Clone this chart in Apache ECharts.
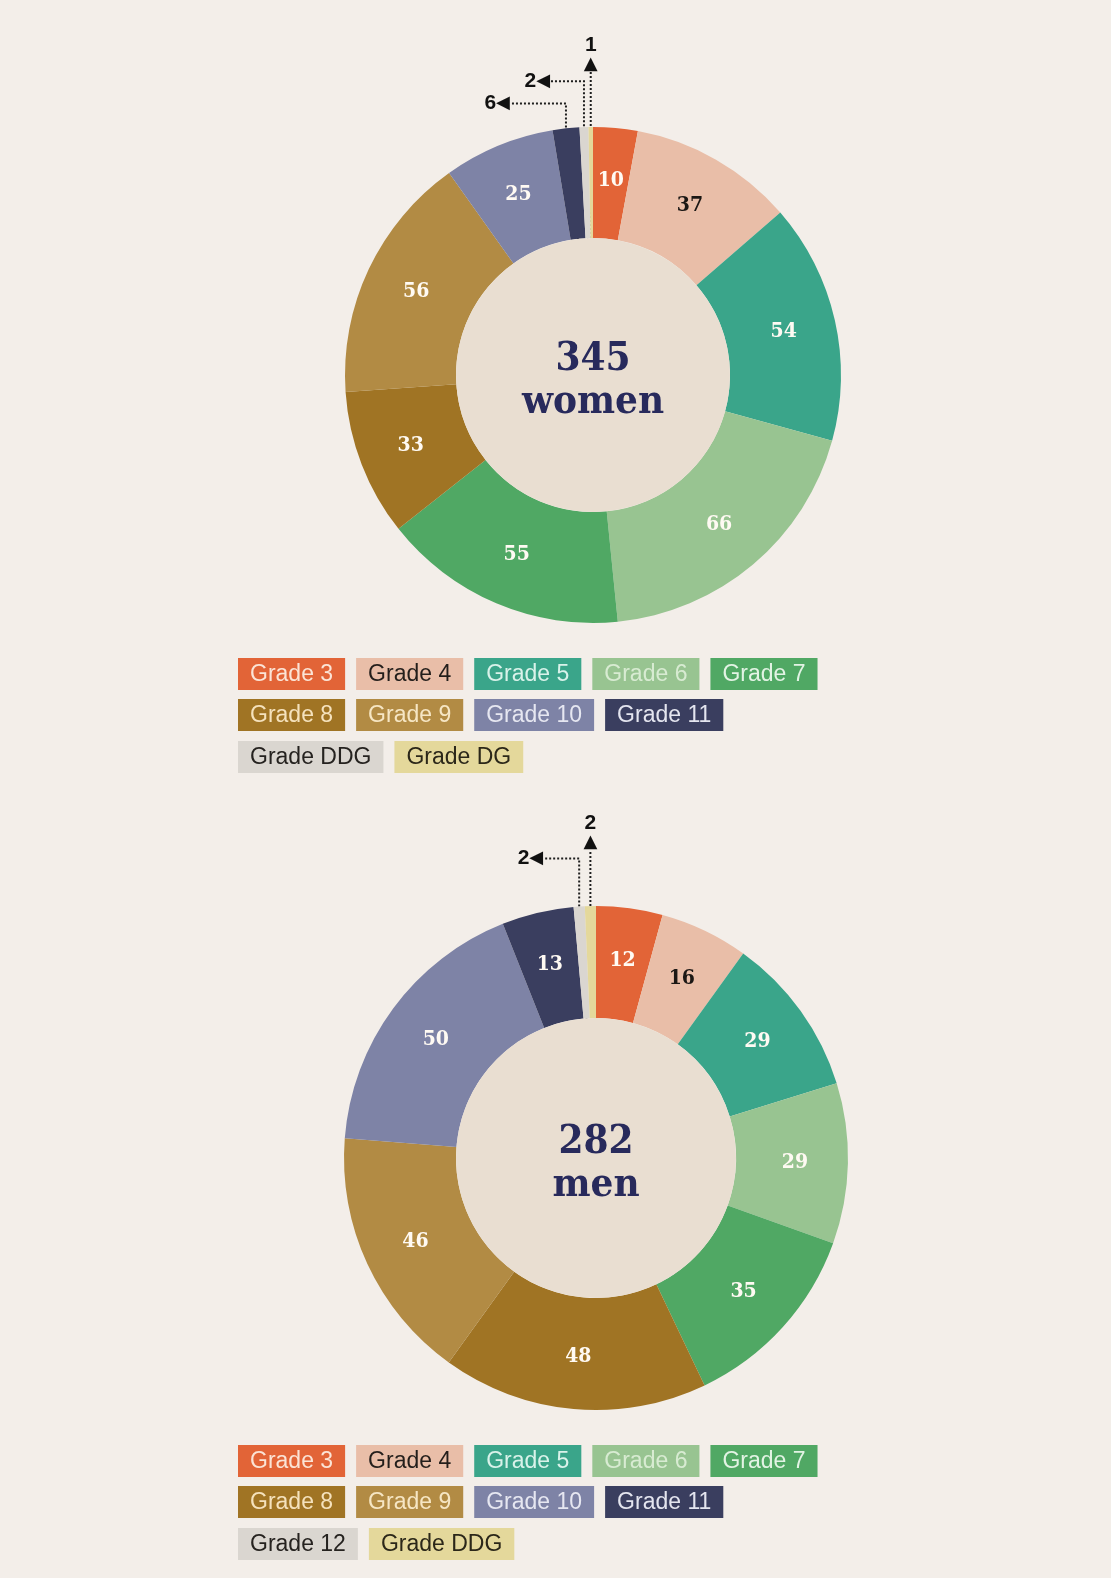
<!DOCTYPE html>
<html lang="en">
<head>
<meta charset="UTF-8" />
<title>Grades by gender</title>
<style>
  html, body { margin: 0; padding: 0; background: #f3eee9; }
  #main { width: 1111px; height: 1578px; }
</style>
</head>
<body>
<div id="main"></div>
<script src="https://cdn.jsdelivr.net/npm/echarts@6/dist/echarts.min.js"></script>
<script>
let womenGrades = ['Grade 3', 'Grade 4', 'Grade 5', 'Grade 6', 'Grade 7', 'Grade 8', 'Grade 9', 'Grade 10', 'Grade 11', 'Grade DDG', 'Grade DG']
let womenCounts = [10, 37, 54, 66, 55, 33, 56, 25, 6, 2, 1]
let menGrades = ['Grade 3', 'Grade 4', 'Grade 5', 'Grade 6', 'Grade 7', 'Grade 8', 'Grade 9', 'Grade 10', 'Grade 11', 'Grade 12', 'Grade DDG']
let menCounts = [12, 16, 29, 29, 35, 48, 46, 50, 13, 2, 2]

// colours by position in the ring (the last two are the grey / pale yellow slots)
let sliceColors = ['#e26437', '#e9bea8', '#3aa58a', '#98c491', '#50a864', '#a07424', '#b28b44', '#7e83a6', '#3a3e5f', '#dad6d0', '#e4d89b']
let legendTextColors = ['#fbe4d6', '#231e1b', '#d9f2ea', '#d8ebd2', '#e2f3e4', '#f5e2bd', '#f6e6c4', '#e6e7f1', '#e4e5ef', '#25221f', '#2b2719']
let serif = '"DejaVu Serif Condensed", "DejaVu Serif", serif'

let charts = [
  {
    grades: womenGrades, counts: womenCounts, word: 'women',
    cx: 593, cy: 375, r: 248, r0: 137,
    legendTop: [658, 699, 741],
    callouts: { 8: { up: 25, left: 56 }, 9: { up: 46, left: 34 }, 10: { up: 55, left: 0 } }
  },
  {
    grades: menGrades, counts: menCounts, word: 'men',
    cx: 596, cy: 1158, r: 252, r0: 140,
    legendTop: [1445, 1486, 1528],
    callouts: { 9: { up: 48, left: 36 }, 10: { up: 56, left: 0 } }
  }
]

let legendRich = {}
sliceColors.forEach(function (c, i) {
  legendRich['g' + i] = {
    backgroundColor: c,
    color: legendTextColors[i],
    fontFamily: '"Liberation Sans", Arial, sans-serif',
    fontSize: 23,
    lineHeight: 23,
    padding: [5, 12, 4, 12]
  }
})

let series = []
let legends = []

charts.forEach(function (cfg) {
  let total = cfg.counts.reduce(function (a, b) { return a + b }, 0)

  let data = cfg.counts.map(function (v, i) {
    let item = { name: cfg.grades[i], value: v, itemStyle: { color: sliceColors[i] } }
    let co = cfg.callouts[i]
    if (co) {
      item.label = {
        position: 'outside',
        color: '#111',
        formatter: function (p) {
          return co.left ? '{n|' + p.value + '}{a|◀}' : '{n|' + p.value + '}\n{u|▲}'
        }
      }
      item.labelLine = {
        show: true, length: 12, length2: 2,
        lineStyle: { color: '#1e1e1e', width: 2, type: 'dotted' }
      }
    } else {
      item.label = { color: i === 1 ? '#1b1714' : '#fffaf3' }
    }
    return item
  })

  series.push({
    type: 'pie',
    center: [cfg.cx, cfg.cy],
    radius: [cfg.r0, cfg.r],
    startAngle: 90,
    clockwise: true,
    silent: true,
    avoidLabelOverlap: false,
    label: {
      show: true,
      position: 'inside',
      formatter: '{c}',
      fontFamily: serif,
      fontWeight: 'bold',
      fontSize: 21,
      rich: {
        n: { fontFamily: '"Liberation Sans", Arial, sans-serif', fontWeight: 'bold', fontSize: 21, lineHeight: 22, color: '#111' },
        a: { fontFamily: '"DejaVu Sans", sans-serif', fontSize: 18, lineHeight: 22, color: '#111' },
        u: { fontFamily: '"DejaVu Sans", sans-serif', fontSize: 18, lineHeight: 16, color: '#111', align: 'center' }
      }
    },
    labelLine: { show: false },
    labelLayout: function (params) {
      let co = cfg.callouts[params.dataIndex]
      if (!co || !params.labelLinePoints) return {}
      let p0 = params.labelLinePoints[0]
      let k = cfg.r0 / cfg.r
      let pIn = [cfg.cx + (p0[0] - cfg.cx) * k, cfg.cy + (p0[1] - cfg.cy) * k]
      let pUp = [p0[0], p0[1] - co.up]
      let pEnd = [pUp[0] - co.left, pUp[1]]
      return {
        x: pEnd[0],
        y: pEnd[1],
        align: co.left ? 'right' : 'center',
        verticalAlign: co.left ? 'middle' : 'bottom',
        labelLinePoints: co.left ? [pIn, p0, pUp, pEnd] : [pIn, p0, pUp]
      }
    },
    data: data
  })

  // inner disc with the total
  series.push({
    type: 'pie',
    center: [cfg.cx, cfg.cy],
    radius: [0, cfg.r0],
    silent: true,
    itemStyle: { color: '#e9ded1' },
    label: {
      show: true,
      position: 'center',
      padding: [12, 0, 0, 0],
      formatter: function (p) { return '{t|' + p.value + '}\n{t|' + p.name + '}' },
      rich: {
        t: { fontFamily: serif, fontWeight: 'bold', fontSize: 40, lineHeight: 43, color: '#282a5c' }
      }
    },
    labelLine: { show: false },
    data: [{ name: cfg.word, value: total }]
  })

  let rows = [[0, 5], [5, 9], [9, cfg.grades.length]]
  rows.forEach(function (rg, k) {
    legends.push({
      left: 233,
      top: cfg.legendTop[k],
      orient: 'horizontal',
      icon: 'none',
      itemWidth: 0,
      itemHeight: 0,
      itemGap: 6,
      padding: 0,
      selectedMode: false,
      data: cfg.grades.slice(rg[0], rg[1]),
      formatter: function (name) {
        return '{g' + cfg.grades.indexOf(name) + '|' + name + '}'
      },
      textStyle: { rich: legendRich }
    })
  })
})

let myChart = echarts.init(document.getElementById('main'))
myChart.setOption({
  backgroundColor: '#f3eee9',
  animation: false,
  legend: legends,
  series: series
})
</script>
</body>
</html>
